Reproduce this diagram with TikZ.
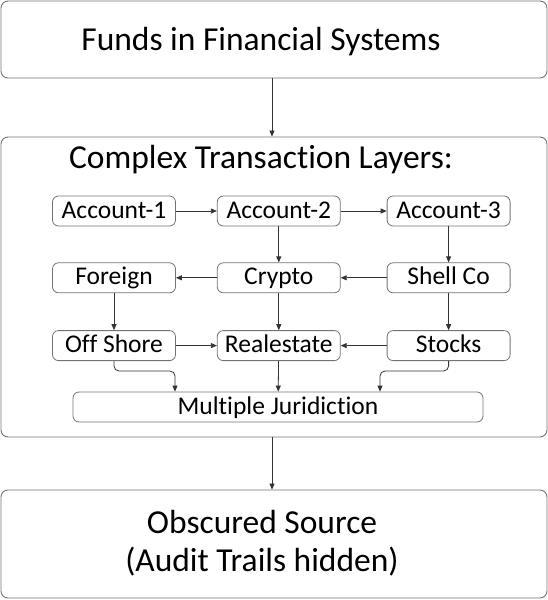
\documentclass[tikz,border=0pt]{standalone}
\usepackage{fontspec}
\setmainfont[Ligatures=NoCommon]{Carlito}
\usepackage{tikz}
\usetikzlibrary{arrows.meta,positioning,calc}
\tikzset{
  bigbox/.style={draw=black!55,rounded corners=7pt,line width=0.9pt,minimum width=546pt,inner sep=0pt},
  box/.style={draw=black!55,rounded corners=6pt,line width=0.8pt,minimum width=#1,minimum height=30pt,inner sep=0pt,text height=15pt,text depth=1pt,font=\fontsize{25.5}{28}\selectfont},
  box/.default={123pt},
  arr/.style={-{Triangle[length=6pt,width=5pt]},line width=0.8pt,draw=black!80},
  ttl/.style={align=center,font=\fontsize{33.5}{38}\selectfont},
}

\begin{document}
\begin{tikzpicture}[x=1pt,y=-1pt]
 \useasboundingbox (0,0) rectangle (548,600);
 \node[bigbox,minimum height=77pt] (funds) at (274,39.5) {};
 \node[ttl] (ftitle) at (261,42) {Funds in Financial Systems};
 \node[bigbox,minimum height=300pt] (layers) at (274,287) {};
 \node[ttl] (ltitle) at (261,160) {Complex Transaction Layers:};
 \node[bigbox,minimum height=108pt] (obsc) at (274,544) {};
 \node[ttl] (otitle) at (262,543) {Obscured Source\\(Audit Trails hidden)};
 % first row
 \node[box] (acc1) at (114,211) {Account-1};
 \node[box,right=41pt of acc1] (acc2) {Account-2};
 \node[box,right=46pt of acc2] (acc3) {Account-3};
 % second row
 \node[box,below=36pt of acc1] (foreign) {Foreign};
 \node[box,below=36pt of acc2] (crypto) {Crypto};
 \node[box,below=36pt of acc3] (shell) {Shell Co};
 % third row
 \node[box,below=37pt of foreign] (off) {Off Shore};
 \node[box,below=37pt of crypto] (real) {Realestate};
 \node[box,below=37pt of shell] (stocks) {Stocks};
 \node[box=410pt] (jur) at (278,407) {Multiple Juridiction};
 \draw[arr] ([xshift=-2pt]funds.south) -- ([xshift=-2pt]layers.north);
 \draw[arr] (acc1) -- (acc2); \draw[arr] (acc2) -- (acc3);
 \draw[arr] (acc2) -- (crypto); \draw[arr] (acc3) -- (shell);
 \draw[arr] (shell) -- (crypto); \draw[arr] (crypto) -- (foreign);
 \draw[arr] (foreign) -- (off); \draw[arr] (crypto) -- (real); \draw[arr] (shell) -- (stocks);
 \draw[arr] (off) -- (real); \draw[arr] (stocks) -- (real);
 \draw[arr,rounded corners=5pt] (off.south) -- ++(0,10) -| ([xshift=-103pt]jur.north);
 \draw[arr] (real) -- (jur);
 \draw[arr,rounded corners=5pt] (stocks.south) -- ++(0,10) -| ([xshift=102pt]jur.north);
 \draw[arr] ([xshift=-2pt]layers.south) -- ([xshift=-2pt]obsc.north);
\end{tikzpicture}
\end{document}
